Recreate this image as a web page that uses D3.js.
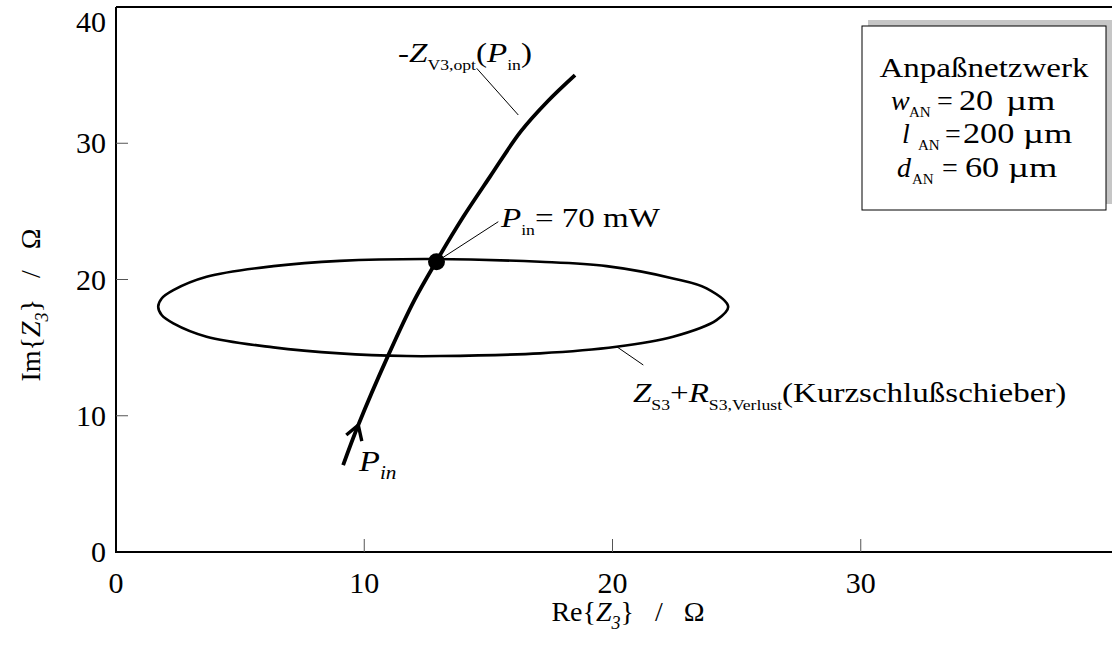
<!DOCTYPE html>
<html>
<head>
<meta charset="utf-8">
<script src="https://cdn.jsdelivr.net/npm/d3@7"></script>
<style>
  html, body { margin: 0; padding: 0; background: #fff; }
  svg { display: block; font-family: "Liberation Serif", "Times New Roman", serif; }
  svg text { white-space: pre; }
</style>
</head>
<body>
<svg id="chart" width="1112" height="650"></svg>
<script>
// Axis ticks
const xTicks = [0, 10, 20, 30];
const yTicks = [0, 10, 20, 30, 40];

// Optimal load impedance locus -Z_V3,opt(P_in), traced with rising input power
const locusRe = [9.15, 9.76, 10.97, 12.02, 12.91, 13.99, 15.06, 16.30, 17.40, 18.49];
const locusIm = [6.38, 9.32, 14.45, 18.49, 21.35, 24.60, 27.53, 30.85, 33.10, 35.00];

// Source impedance of the sliding short circuit (closed contour)
const loopRe = [1.70, 1.84, 2.31, 3.65, 6.34, 9.02, 12.78, 17.08, 19.76, 22.44, 23.79, 24.66,
                24.19, 22.44, 20.16, 17.08, 13.05, 11.71, 9.02, 6.34, 3.65, 2.31, 1.84];
const loopIm = [18.00, 18.61, 19.22, 20.20, 20.98, 21.37, 21.50, 21.30, 20.98, 20.08, 19.35, 18.00,
                17.02, 15.80, 15.06, 14.58, 14.38, 14.38, 14.58, 15.02, 15.80, 16.78, 17.39];

// Operating point at P_in = 70 mW
const opPoint = [12.91, 21.30];

// Matching network parameters
const boxTitle = "Anpaßnetzwerk";
const boxSyms = ["w", "l", "d"];
const boxSubs = ["AN", "AN", "AN"];
const boxNums = ["20", "200", "60"];
const boxUnit = "µm";

const svg = d3.select("#chart");
const x = d3.scaleLinear().domain([0, 40]).range([116, 1109]);
const y = d3.scaleLinear().domain([0, 40]).range([552, 7]);

// Serif annotation type is set slightly wide
const SX = 1.18;

// Rich text helper: parts with italics and subscripts, widened by sx
function rich(g, px, py, parts, size, subSize, anchor, sx) {
  const holder = g.append("g").attr("transform", `translate(${px},${py}) scale(${sx || 1},1)`);
  const t = holder.append("text").attr("x", 0).attr("y", 0)
    .attr("font-size", size).attr("fill", "#000")
    .attr("text-anchor", anchor || "start");
  let down = false;
  const shift = Math.round(size * 0.27);
  parts.forEach(p => {
    const s = t.append("tspan").text(p.t);
    if (p.i) s.attr("font-style", "italic");
    if (p.sub) s.attr("font-size", subSize);
    if (p.sub && !down) { s.attr("dy", shift); down = true; }
    else if (!p.sub && down) { s.attr("dy", -shift); down = false; }
  });
  return t;
}

// Frame: top border, left and bottom axes
svg.append("line").attr("x1", x(0)).attr("x2", 1112).attr("y1", y(40)).attr("y2", y(40))
  .attr("stroke", "#000").attr("stroke-width", 2);
svg.append("line").attr("x1", x(0)).attr("x2", x(0)).attr("y1", y(40)).attr("y2", y(0) + 1)
  .attr("stroke", "#000").attr("stroke-width", 2);
svg.append("line").attr("x1", x(0) - 1).attr("x2", 1112).attr("y1", y(0)).attr("y2", y(0))
  .attr("stroke", "#000").attr("stroke-width", 2);

// Inward ticks
svg.selectAll(".xt").data(xTicks.filter(d => d > 0)).join("line")
  .attr("x1", d => x(d)).attr("x2", d => x(d))
  .attr("y1", y(0)).attr("y2", y(0) - 13)
  .attr("stroke", "#555").attr("stroke-width", 1);
svg.selectAll(".yt").data(yTicks.filter(d => d > 0 && d < 40)).join("line")
  .attr("x1", x(0)).attr("x2", x(0) + 12)
  .attr("y1", d => y(d)).attr("y2", d => y(d))
  .attr("stroke", "#555").attr("stroke-width", 1);

// Tick labels (the top one sits just below the frame)
svg.selectAll(".xl").data(xTicks).join("text")
  .attr("x", d => x(d)).attr("y", 593)
  .attr("text-anchor", "middle").attr("font-size", 30).text(d => d);
svg.selectAll(".yl").data(yTicks).join("text")
  .attr("x", 106).attr("y", d => Math.max(y(d), 22) + 10)
  .attr("text-anchor", "end").attr("font-size", 30).text(d => d);

// Axis titles
rich(svg, 628, 621, [{ t: "Re{" }, { t: "Z", i: 1 }, { t: "3", i: 1, sub: 1 }, { t: "}   /   Ω" }], 28, 18, "middle");
const yTitle = svg.append("g").attr("transform", "translate(40,305) rotate(-90)");
rich(yTitle, 0, 0, [{ t: "Im{" }, { t: "Z", i: 1 }, { t: "3", i: 1, sub: 1 }, { t: "}   /   Ω" }], 28, 18, "middle");

// Closed contour
const loopPts = loopRe.map((v, i) => [x(v), y(loopIm[i])]);
svg.append("path")
  .attr("d", d3.line().curve(d3.curveCatmullRomClosed.alpha(0.5))(loopPts))
  .attr("fill", "none").attr("stroke", "#000").attr("stroke-width", 2.6);

// Locus curve
const locusPts = locusRe.map((v, i) => [x(v), y(locusIm[i])]);
svg.append("path")
  .attr("d", d3.line().curve(d3.curveCatmullRom.alpha(0.5))(locusPts))
  .attr("fill", "none").attr("stroke", "#000").attr("stroke-width", 3.8)
  .attr("stroke-linecap", "butt");

// Arrow head marking increasing input power
const tip = [x(locusRe[1]), y(locusIm[1])];
svg.append("path")
  .attr("d", `M${tip[0] - 12},${tip[1] + 10} L${tip[0]},${tip[1]} L${tip[0] + 3.5},${tip[1] + 16}`)
  .attr("fill", "none").attr("stroke", "#000").attr("stroke-width", 3.4)
  .attr("stroke-linejoin", "miter");

// Operating point
svg.append("circle").attr("cx", x(opPoint[0])).attr("cy", y(opPoint[1])).attr("r", 8.5).attr("fill", "#000");

// Leader lines
const leaders = [
  [476.7, 68.3, 518.3, 115],
  [498.3, 221.7, x(opPoint[0]) + 6, y(opPoint[1]) - 4],
  [616.7, 346.7, 643.3, 365]
];
svg.selectAll(".ld").data(leaders).join("line")
  .attr("x1", d => d[0]).attr("y1", d => d[1]).attr("x2", d => d[2]).attr("y2", d => d[3])
  .attr("stroke", "#000").attr("stroke-width", 1);

// Curve labels
rich(svg, 398, 62, [{ t: "-" }, { t: "Z", i: 1 }, { t: "V3,opt", sub: 1 }, { t: "(" }, { t: "P", i: 1 }, { t: "in", sub: 1 }, { t: ")" }], 28, 15, "start", SX);
rich(svg, 501, 227, [{ t: "P", i: 1 }, { t: "in", sub: 1 }, { t: "= 70 mW" }], 28, 15, "start", SX);
rich(svg, 359, 471, [{ t: "P", i: 1 }, { t: "in", i: 1, sub: 1 }], 29, 18, "start", SX);
rich(svg, 633, 402, [{ t: "Z", i: 1 }, { t: "S3", sub: 1 }, { t: "+" }, { t: "R", i: 1 }, { t: "S3,Verlust", sub: 1 }, { t: "(Kurzschlußschieber)" }], 28, 15, "start", SX);

// Parameter box with drop shadow
const bx = 862, by = 26, bw = 244, bh = 184;
svg.append("rect").attr("x", bx + 6).attr("y", by - 6).attr("width", bw).attr("height", bh).attr("fill", "#c6c6c6");
svg.append("rect").attr("x", bx).attr("y", by).attr("width", bw).attr("height", bh)
  .attr("fill", "#fff").attr("stroke", "#000").attr("stroke-width", 1);
rich(svg, 984, 77, [{ t: boxTitle }], 28, 15, "middle", SX);
const symX = [891, 902, 897], subX = [909, 918, 912], eqX = [937, 945, 942];
const numX = [959, 963, 965], unitX = [1006, 1023, 1008];
const rowY = [110, 143, 177];
boxSyms.forEach((s, i) => {
  rich(svg, symX[i], rowY[i], [{ t: s, i: 1 }], 28, 15, "start", 1.0);
  rich(svg, subX[i], rowY[i] + 7, [{ t: boxSubs[i] }], 15, 15, "start", 1.0);
  rich(svg, eqX[i], rowY[i], [{ t: "=" }], 28, 15, "start", 1.0);
  rich(svg, numX[i], rowY[i], [{ t: boxNums[i] }], 29, 15, "start", SX);
  rich(svg, unitX[i], rowY[i], [{ t: boxUnit }], 28, 15, "start", 1.3);
});
</script>
</body>
</html>
